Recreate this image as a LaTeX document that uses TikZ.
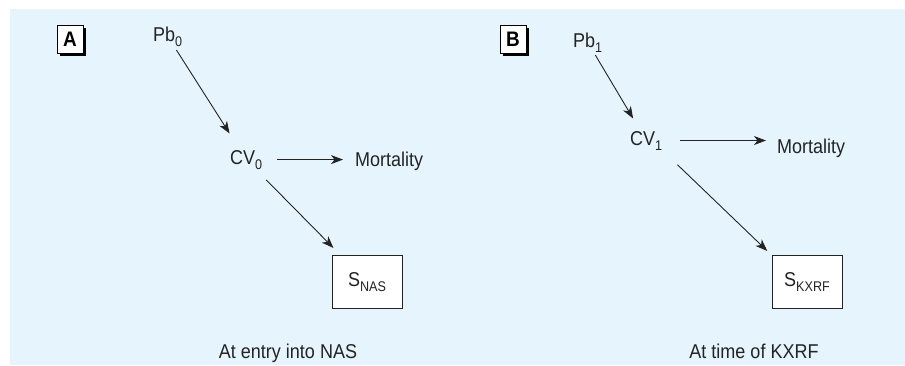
\documentclass[tikz,border=0pt]{standalone}
\usepackage{fontspec}
\setmainfont[FakeStretch=0.9]{Liberation Sans}
\usepackage{xcolor}
\usetikzlibrary{shapes,shadows,arrows.meta,calc}
\definecolor{panelblue}{RGB}{230,245,253}
\definecolor{inkgray}{RGB}{35,35,35}
\newcommand{\lowsub}[1]{\raisebox{-5pt}{\fontsize{14}{14}\selectfont #1}}
\tikzstyle{tsText} = [
    text=inkgray,
    font=\fontsize{20}{23}\selectfont,
    inner sep=2pt
]
\tikzstyle{tsLabel} = [
    tsText,
    anchor=base west
]
\tikzstyle{tsCaption} = [
    tsText,
    anchor=base
]
\tikzstyle{tsRectangle} = [
    rectangle,
    tsText,
    draw=inkgray,
    fill=white,
    line width=0.8pt,
    minimum width=70pt,
    minimum height=53pt
]
\tikzstyle{tsPanel} = [
    rectangle,
    draw=black,
    fill=white,
    line width=0.8pt,
    minimum width=26pt,
    minimum height=28pt,
    font=\fontsize{21}{23}\selectfont\bfseries,
    drop shadow={shadow xshift=3pt, shadow yshift=-3pt, fill=black, opacity=1}
]
\tikzstyle{tsArrow} = [
    -{Stealth[length=12pt,width=9pt,inset=3.5pt]},
    draw=inkgray,
    line width=0.9pt
]

\begin{document}
\begin{tikzpicture}[x=1pt, y=-1pt]

        \useasboundingbox (0,0) rectangle (905,365);
        \fill[panelblue] (10,9) rectangle (905,365);

        % panel A
        \node[tsPanel] (panelA) at (70,39) {A};
        \node[tsLabel] (pbA) at (151,41) {Pb\lowsub{0}};
        \node[tsLabel] (cvA) at (228,164) {CV\lowsub{0}};
        \node[tsLabel] (mortA) at (353,166) {Mortality};
        \node[tsRectangle] (sA) at (367,282) {S\lowsub{NAS}};
        \node[tsCaption] (capA) at (288,358) {At entry into NAS};

        \draw[tsArrow, shorten <=2pt, shorten >=17pt] (pbA) -- (cvA);
        \draw[tsArrow, shorten <=13pt, shorten >=10pt] (cvA.east) -- (cvA.east -| mortA.west);
        \draw[tsArrow, shorten <=12pt, shorten >=10pt] (cvA) -- (sA);

        % panel B
        \node[tsPanel] (panelB) at (513,39) {B};
        \node[tsLabel] (pbB) at (571,47) {Pb\lowsub{1}};
        \node[tsLabel] (cvB) at (628,145) {CV\lowsub{1}};
        \node[tsLabel] (mortB) at (775,153) {Mortality};
        \node[tsRectangle] (sB) at (807,282) {S\lowsub{KXRF}};
        \node[tsCaption] (capB) at (754,358) {At time of KXRF};

        \draw[tsArrow, shorten <=1pt, shorten >=12pt] (pbB) -- (cvB);
        \draw[tsArrow, shorten <=16pt, shorten >=9pt] (cvB.east) -- (cvB.east -| mortB.west);
        \draw[tsArrow, shorten <=18pt, shorten >=6pt] (cvB.south east) -- (sB.north west);

\end{tikzpicture}
\end{document}
